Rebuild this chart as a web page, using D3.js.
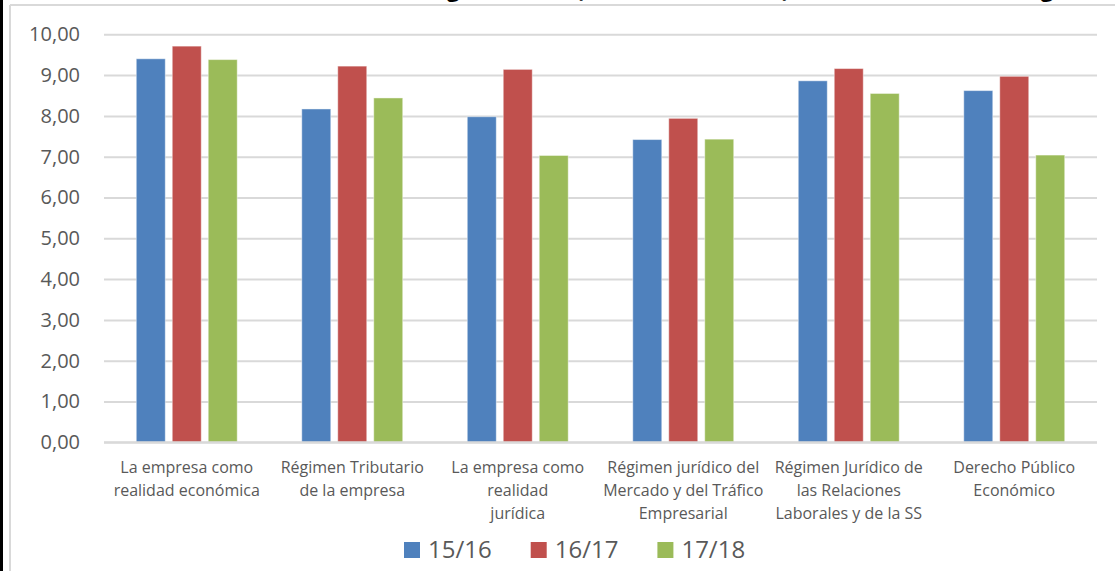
<!DOCTYPE html>
<html>
<head>
<meta charset="utf-8">
<script src="https://cdn.jsdelivr.net/npm/d3@7"></script>
<style>
  body { margin: 0; background: #fff; }
  text { font-family: "Open Sans", sans-serif; }
</style>
</head>
<body>
<div id="viz"></div>
<script>
// datos
var categories = [
  ['La empresa como', 'realidad económica'],
  ['Régimen Tributario', 'de la empresa'],
  ['La empresa como', 'realidad', 'jurídica'],
  ['Régimen jurídico del', 'Mercado y del Tráfico', 'Empresarial'],
  ['Régimen Jurídico de', 'las Relaciones', 'Laborales y de la SS'],
  ['Derecho Público', 'Económico']
];
var series = ['15/16', '16/17', '17/18'];
var values1516 = [9.40, 8.17, 7.98, 7.42, 8.86, 8.62];
var values1617 = [9.71, 9.22, 9.14, 7.94, 9.16, 8.97];
var values1718 = [9.38, 8.44, 7.03, 7.43, 8.55, 7.04];
var yTicks = [0, 1, 2, 3, 4, 5, 6, 7, 8, 9, 10];
var colors = ['#4F81BD', '#C0504D', '#9BBB59'];
// el titulo queda casi fuera del recorte
var titleParts = ['Figura 5.', '(cursos 15-18', ')', 'de las asignaturas'];

var width = 1115, height = 571,
    margin = {top: 34.3, right: 18, bottom: 128.7, left: 104};

var allValues = [values1516, values1617, values1718];

var svg = d3.select('#viz').append('svg')
  .attr('width', width)
  .attr('height', height);

// titulo: solo asoman los descendentes
var titleAnchors = [[2, 447], [0, 576], [0, 782], [8, 1023]];
var titleText = svg.append('text')
  .attr('y', -3)
  .style('font-size', '22px')
  .style('font-weight', 'bold')
  .style('fill', '#000');
titleParts.forEach(function(p, i) {
  var ts = titleText.append('tspan').attr('x', 0).text(p);
  var off = ts.node().getSubStringLength(0, titleAnchors[i][0]);
  ts.attr('x', titleAnchors[i][1] - off);
});

// marco
svg.append('rect').attr('x', 0).attr('y', 0).attr('width', 3).attr('height', height).attr('fill', '#000');
svg.append('line').attr('x1', 10).attr('x2', 10).attr('y1', 5).attr('y2', height)
  .attr('stroke', '#d9d9d9').attr('stroke-width', 2);
svg.append('line').attr('x1', 10).attr('x2', width).attr('y1', 5).attr('y2', 5)
  .attr('stroke', '#d9d9d9').attr('stroke-width', 2);

var yScale = d3.scaleLinear()
  .domain([0, 10])
  .range([height - margin.bottom, margin.top]);

var x0 = d3.scaleBand()
  .domain(d3.range(categories.length))
  .range([margin.left, width - margin.right])
  .paddingInner(0)
  .paddingOuter(0);

var bw = x0.bandwidth();
var x1 = d3.scaleBand()
  .domain(series)
  .range([bw * 0.195, bw * 0.805])
  .paddingInner(0.194)
  .paddingOuter(0);

var fmt = function(d) { return d3.format('.2f')(d).replace('.', ','); };

// rejilla
var yAxis = d3.axisLeft(yScale)
  .tickValues(yTicks)
  .tickSize(-(width - margin.left - margin.right))
  .tickPadding(24)
  .tickFormat(fmt);

var yGuide = svg.append('g')
  .attr('transform', 'translate(' + margin.left + ',0)')
  .call(yAxis);
yGuide.select('.domain').remove();
yGuide.selectAll('.tick line').attr('stroke', '#d9d9d9').attr('stroke-width', 2);
yGuide.selectAll('.tick text')
  .style('font-size', '20px')
  .style('font-family', '"Open Sans", sans-serif')
  .attr('fill', '#595959');

// barras
var groups = svg.append('g').selectAll('g')
  .data(categories)
  .enter().append('g')
  .attr('transform', function(d, i) { return 'translate(' + x0(i) + ',0)'; });

groups.selectAll('rect')
  .data(function(d, i) {
    return series.map(function(s, j) { return {s: s, j: j, v: allValues[j][i]}; });
  })
  .enter().append('rect')
  .attr('x', function(d) { return x1(d.s); })
  .attr('width', x1.bandwidth())
  .attr('y', function(d) { return yScale(d.v); })
  .attr('height', function(d) { return yScale(0) - yScale(d.v); })
  .attr('fill', function(d) { return colors[d.j]; })
  .attr('stroke', 'rgba(255,255,255,0.45)')
  .attr('stroke-width', 1);

// linea base
svg.append('line')
  .attr('x1', margin.left).attr('x2', width - margin.right)
  .attr('y1', yScale(0)).attr('y2', yScale(0))
  .attr('stroke', '#d9d9d9').attr('stroke-width', 2);

// etiquetas de categoria
var xLabels = svg.append('g').selectAll('text')
  .data(categories)
  .enter().append('text')
  .attr('text-anchor', 'middle')
  .attr('x', function(d, i) { return x0(i) + bw / 2; })
  .attr('y', yScale(0) + 31)
  .style('font-size', '16px')
  .attr('fill', '#595959');

xLabels.selectAll('tspan')
  .data(function(d) { return d; })
  .enter().append('tspan')
  .attr('x', function() { return d3.select(this.parentNode).attr('x'); })
  .attr('dy', function(d, i) { return i === 0 ? 0 : 23; })
  .text(function(d) { return d; });

// leyenda
var legend = svg.append('g').attr('transform', 'translate(404,0)');
var lx = 0;
series.forEach(function(s, j) {
  legend.append('rect')
    .attr('x', lx).attr('y', 542)
    .attr('width', 16).attr('height', 16)
    .attr('fill', colors[j]);
  var t = legend.append('text')
    .attr('x', lx + 24).attr('y', 558)
    .style('font-size', '24px')
    .attr('fill', '#595959')
    .text(s);
  lx += 24 + t.node().getComputedTextLength() + 39;
});
</script>
</body>
</html>
